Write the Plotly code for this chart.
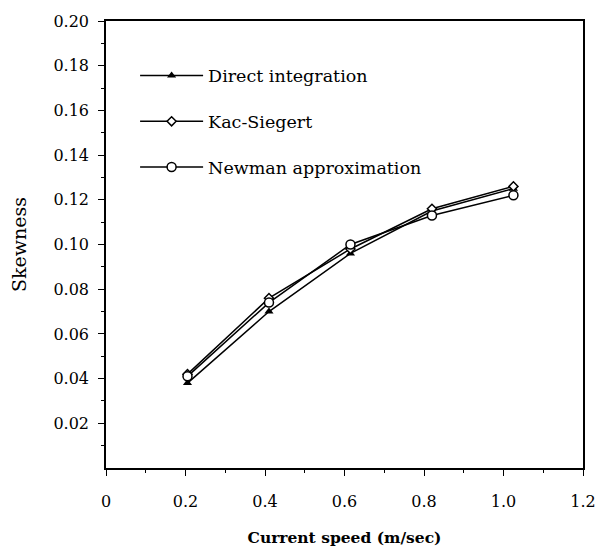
import plotly.graph_objects as go

speed = [0.205, 0.41, 0.615, 0.82, 1.025]
direct = [0.038, 0.070, 0.096, 0.115, 0.125]
kac_siegert = [0.042, 0.076, 0.098, 0.116, 0.126]
newman = [0.041, 0.074, 0.100, 0.113, 0.122]

x_ticks = [0, 0.2, 0.4, 0.6, 0.8, 1.0, 1.2]
x_ticktext = ["0", "0.2", "0.4", "0.6", "0.8", "1.0", "1.2"]
y_ticks = [0.02, 0.04, 0.06, 0.08, 0.10, 0.12, 0.14, 0.16, 0.18, 0.20]
y_ticktext = ["0.02", "0.04", "0.06", "0.08", "0.10", "0.12", "0.14", "0.16", "0.18", "0.20"]

FONT = "DejaVu Serif"
fig = go.Figure()
fig.add_trace(go.Scatter(x=speed, y=direct, name="Direct integration", mode="lines+markers",
                         line=dict(color="black", width=1.5),
                         marker=dict(symbol="triangle-up", size=8, color="black"),
                         legendgroup="a"))
fig.add_trace(go.Scatter(x=speed, y=kac_siegert, name="Kac-Siegert", mode="lines+markers",
                         line=dict(color="black", width=1.5),
                         marker=dict(symbol="diamond", size=7, color="white",
                                     line=dict(color="black", width=1.5)),
                         legendgroup="b"))
fig.add_trace(go.Scatter(x=speed, y=newman, name="Newman approximation", mode="lines+markers",
                         line=dict(color="black", width=1.5),
                         marker=dict(symbol="circle", size=9, color="white",
                                     line=dict(color="black", width=1.5)),
                         legendgroup="c"))

fig.update_layout(
    width=607, height=540,
    margin=dict(l=98, r=32, t=13, b=80),
    paper_bgcolor="white", plot_bgcolor="white",
    font=dict(family=FONT, color="black", size=15),
    showlegend=True,
    legend=dict(x=0.061, y=0.918, xanchor="left", yanchor="top",
                bgcolor="rgba(0,0,0,0)", tracegroupgap=20,
                font=dict(family=FONT, size=17.5), itemwidth=63),
    xaxis=dict(range=[0, 1.2], tickmode="array", tickvals=x_ticks, ticktext=x_ticktext,
               automargin=False,
               ticks="outside", ticklen=6, tickwidth=1.2, tickcolor="black",
               minor=dict(tickmode="array", tickvals=[0.1, 0.3, 0.5, 0.7, 0.9, 1.1],
                          ticks="outside", ticklen=3, tickcolor="black"),
               showline=True, linecolor="black", linewidth=1.5, mirror=True,
               showgrid=False, zeroline=False,
               tickfont=dict(family=FONT, size=16), ticklabelstandoff=12,
               title=dict(text="<b>Current speed (m/sec)</b>",
                          font=dict(family=FONT, size=15.5), standoff=22)),
    yaxis=dict(range=[0, 0.2], tickmode="array", tickvals=y_ticks, ticktext=y_ticktext,
               automargin=False,
               ticks="outside", ticklen=6, tickwidth=1.2, tickcolor="black",
               minor=dict(tickmode="array",
                          tickvals=[0.01, 0.03, 0.05, 0.07, 0.09, 0.11, 0.13, 0.15, 0.17, 0.19],
                          ticks="outside", ticklen=3, tickcolor="black"),
               showline=True, linecolor="black", linewidth=1.5, mirror=True,
               showgrid=False, zeroline=False,
               tickfont=dict(family=FONT, size=16), ticklabelstandoff=6,
               title=dict(text="Skewness", font=dict(family=FONT, size=19), standoff=32)),
)

fig.write_html("out.html")
